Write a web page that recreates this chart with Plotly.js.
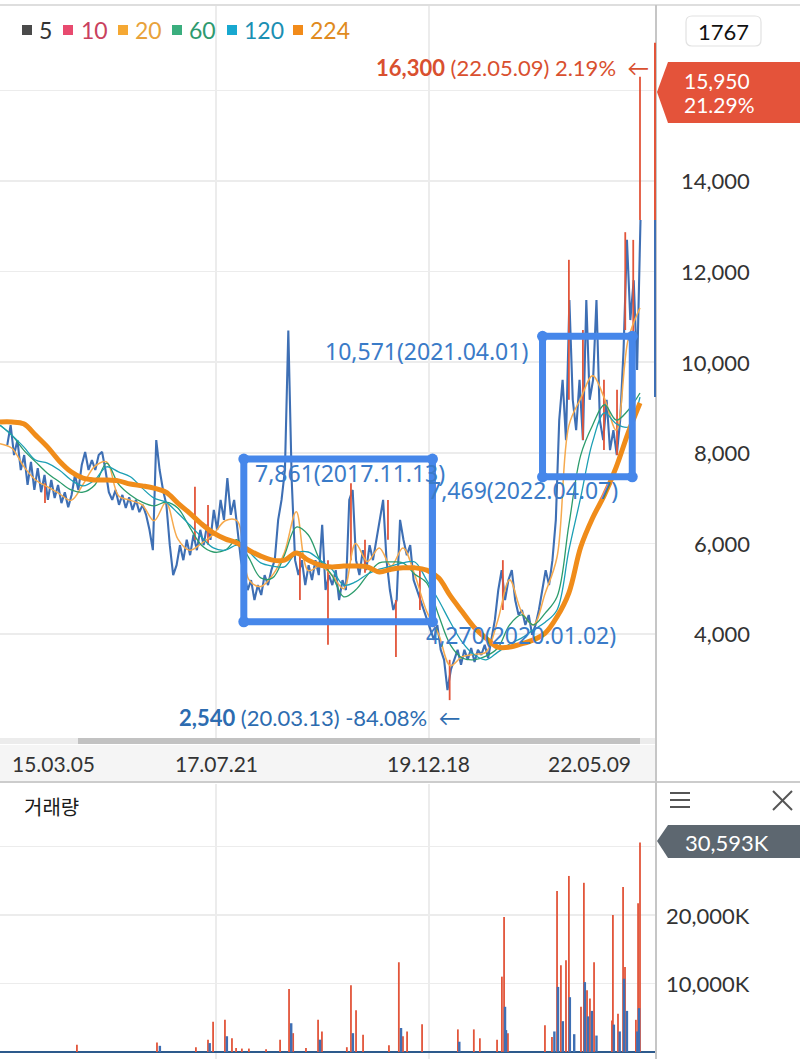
<!DOCTYPE html>
<html>
<head>
<meta charset="utf-8">
<script src="https://cdn.plot.ly/plotly-3.0.1.min.js"></script>
<style>
html,body{margin:0;padding:0;background:#fff;}
#chart{width:800px;height:1059px;}
</style>
</head>
<body>
<div id="chart"></div>
<script>
// ---------------- DATA ----------------
// price (sampled every 14 days, starting 2015-03-11)
const priceStart = '2015-03-11';
const priceStepDays = 14;
const priceValues = [
8170,8610,7950,8280,7620,7950,7290,7800,7180,7660,
7130,7510,6960,7400,7000,7290,6890,7130,6800,7070,
7510,7180,7730,8020,7620,7840,7620,7950,8020,7620,
7130,6960,7180,6850,7070,6780,7020,6740,6960,6690,
6850,6630,6300,5850,8280,7620,7180,6850,5960,5300,
5520,5960,5630,6080,5740,6190,5850,6300,5960,6410,
6080,6740,6300,6960,6520,7440,6630,6960,6300,5630,
5300,4970,5190,4750,5080,4860,5300,5080,5410,5630,
6520,6960,7620,10700,7400,5630,5300,5630,5080,5520,
5190,5630,5300,6410,4970,5300,5080,5410,4750,5190,
4970,6960,7180,5630,5300,5850,5410,5960,5630,6080,
6520,6960,5630,4970,4530,4750,6520,6080,5740,5960,
5190,4970,4750,4530,4310,4090,3870,4200,3650,3430,
2760,3210,3430,3650,3320,3650,3430,3690,3380,3650,
3540,3760,3470,3870,4310,4970,5410,4750,5190,5410,
4750,4420,4530,4200,4420,3980,4200,4530,4970,5410,
5080,5630,6520,8720,9610,8280,11370,9170,8500,9610,
8280,11370,9170,9610,11370,8720,8280,9170,8060,8500,
7950,8720,10270,12700,10930,11810,9830,13140
];

// red candle wicks (date, low, high)
const wickDates = ['2015-08-14','2017-04-25','2017-06-18','2018-07-03','2018-10-27','2019-01-30','2019-03-29','2019-07-02','2019-08-04','2019-11-11','2020-03-13','2020-10-19','2021-07-19','2021-09-15','2021-12-11','2022-02-03','2022-03-09','2022-04-11','2022-05-09'];
const wickLow  = [6890,6080,5970,4750,3760,5630,5350,6080,3490,4530,2540,4530,9170,8280,8060,7950,10710,10200,13140];
const wickHigh = [7330,7250,6850,5740,5630,7330,6080,6960,4750,5410,3430,5630,12260,10710,9610,9390,12870,12700,16300];

// moving averages (sampled every 49 days, starting 2015-02-09)
const maStart = '2015-02-09';
const maStepDays = 49;
const ma20 = [8200,8100,7700,7400,7250,7100,6950,7300,7700,7800,7050,6950,6850,6500,6900,6100,5850,6000,6200,6500,6500,5200,5050,5300,5800,6700,5400,5500,5300,5000,6000,5600,5900,5500,5900,5300,4500,4000,3300,3500,3550,3600,4300,5200,4500,4200,4900,5700,8600,9200,9700,9200,8500,10500,11200];
const ma60 = [8610,8390,8060,7800,7550,7360,7180,7130,7290,7770,7310,7070,6910,6830,6910,6780,6360,5960,5810,5850,6080,5680,5240,5240,5740,6360,6190,5630,5300,4820,4970,5300,5570,5590,5570,5320,5130,4420,3760,3470,3430,3510,3690,4200,4420,4200,4460,4820,6410,7950,8610,9060,8720,8940,9320];
const ma120 = [8610,8390,8130,7840,7770,7620,7400,7270,7400,7690,7580,7470,7220,7000,6910,6670,6410,6140,5900,5850,5960,5810,5570,5500,5480,5790,5810,5630,5430,5080,5150,5320,5430,5500,5570,5590,5190,4750,4260,3820,3540,3430,3600,3780,3910,4090,4260,4530,5850,7020,8240,8880,8640,8570,9230];
const ma224 = [8680,8680,8640,8390,8130,7820,7580,7440,7400,7400,7380,7310,7270,7220,7130,6890,6670,6430,6230,6100,6010,5850,5720,5630,5630,5790,5630,5520,5480,5500,5500,5480,5370,5430,5460,5460,5410,5240,4840,4490,4150,3910,3710,3710,3780,3870,4020,4380,4910,5920,6560,7070,7690,8440,9100];
const maLegendLabels = ['5','10','20','60','120','224'];

// volume (thousands of shares)
const volUpDates = ['2015-12-24','2016-11-19','2017-04-29','2017-06-18','2017-07-09','2017-08-27','2017-09-25','2017-10-12','2017-11-05','2017-12-04','2018-02-13','2018-04-12','2018-05-19','2018-06-05','2018-07-28','2018-09-16','2018-10-02','2019-01-13','2019-01-30','2019-02-20','2019-03-21','2019-07-06','2019-08-16','2019-09-02','2019-09-19','2019-11-20','2020-04-16','2020-06-21','2020-07-16','2020-09-25','2020-10-15','2020-10-24','2020-11-09','2021-04-11','2021-05-10','2021-05-31','2021-06-16','2021-07-07','2021-07-19','2021-09-07','2021-09-19','2021-10-02','2021-10-14','2021-10-31','2022-01-13','2022-01-17','2022-02-07','2022-02-28','2022-03-08','2022-04-22','2022-05-01','2022-05-09'];
const volUp = [1060,1400,700,1800,4400,4700,2000,600,500,500,400,1800,9200,2750,600,4700,3000,700,9750,6100,2500,1000,13100,2300,3000,4050,3300,3300,2000,1800,11000,19700,2750,3900,2200,23500,12650,13400,25700,6600,24700,9000,7800,13100,4600,20000,5600,24100,12400,4700,21700,30593];
const volDownDates = ['2016-12-01','2017-06-25','2017-09-04','2018-05-28','2018-09-24','2019-02-07','2019-08-25','2020-04-22','2020-10-28','2020-11-01','2021-05-20','2021-06-04','2021-06-24','2021-07-23','2021-08-10','2021-09-23','2021-10-06','2021-10-22','2021-11-10','2022-01-21','2022-02-14','2022-03-04','2022-03-16','2022-04-28','2022-05-05'];
const volDown = [900,1300,2300,4200,1800,2750,3500,1500,6600,3200,3000,9500,4500,8000,2600,10200,5200,6000,2400,4000,3000,10700,6000,3000,6400];

// marked boxes
const boxStart = ['2017-11-13','2021-04-01'];
const boxEnd   = ['2020-01-02','2022-04-07'];
const boxLow   = [4270,7469];
const boxHigh  = [7861,10571];
const boxLabelTop = ['7,861(2017.11.13)','10,571(2021.04.01)'];
const boxLabelBottom = ['4,270(2020.01.02)','7,469(2022.04.07)'];

// extremes
const maxDate = '2022-05-09', maxPrice = 16300, maxText = '<b>16,300</b> (22.05.09) 2.19%';
const minDate = '2020-03-13', minPrice = 2540, minText = '<b>2,540</b> (20.03.13) -84.08%';
const lastPrice = '15,950', lastChange = '21.29%', lastVolume = '30,593K', chartCount = '1767';
const edgeBarRed = [13140, 17050];
const edgeBarBlue = [9230, 13140];

// axes
const priceTickVals = [4000,6000,8000,10000,12000,14000,16000];
const priceTickText = ['4,000','6,000','8,000','10,000','12,000','14,000','16,000'];
const volTickVals = [10000,20000,30000];
const volTickText = ['10,000K','20,000K','30,000K'];
const xGridDates = ['2017-07-21','2019-12-18'];
const xLabelDates = ['2015-03-05','2017-07-21','2019-12-18','2022-05-09'];
const xLabelText = ['15.03.05','17.07.21','19.12.18','22.05.09'];

// ---------------- HELPERS ----------------
const W = 800, H = 1059;
const PX = v => v / W;
const PY = v => 1 - v / H;
function addDays(iso, n){
  const d = new Date(iso + 'T00:00:00Z');
  d.setUTCDate(d.getUTCDate() + n);
  return d.toISOString().slice(0,10);
}
function segs(dates, lo, hi){
  const x=[], y=[];
  dates.forEach((d,i)=>{ x.push(d,d,null); y.push(lo[i],hi[i],null); });
  return {x,y};
}
function poly(pts){
  return 'M ' + pts.map(p => PX(p[0]) + ',' + PY(p[1])).join(' L ') + ' Z';
}
function roundRect(x0,y0,x1,y1,r){
  const P = (a,b) => PX(a)+','+PY(b);
  return 'M '+P(x0+r,y0)+' L '+P(x1-r,y0)+' Q '+P(x1,y0)+' '+P(x1,y0+r)+
         ' L '+P(x1,y1-r)+' Q '+P(x1,y1)+' '+P(x1-r,y1)+
         ' L '+P(x0+r,y1)+' Q '+P(x0,y1)+' '+P(x0,y1-r)+
         ' L '+P(x0,y0+r)+' Q '+P(x0,y0)+' '+P(x0+r,y0)+' Z';
}

const priceDates = priceValues.map((_,i)=>addDays(priceStart, i*priceStepDays));
const maDates = ma224.map((_,i)=>addDays(maStart, i*maStepDays));

const RED = '#e2553a', BLUE = '#3e6fb4', BOX = '#4687ea', BOXTXT = '#3a7bc8';

// ---------------- TRACES ----------------
const traces = [];
traces.push({x:priceDates, y:priceValues, type:'scatter', mode:'lines', line:{color:BLUE, width:2.1}, xaxis:'x', yaxis:'y', hoverinfo:'skip'});
const w = segs(wickDates, wickLow, wickHigh);
traces.push({x:w.x, y:w.y, type:'scatter', mode:'lines', line:{color:RED, width:1.8}, xaxis:'x', yaxis:'y', hoverinfo:'skip'});
traces.push({x:maDates, y:ma20, type:'scatter', mode:'lines', line:{color:'#f6aa4e', width:1.5, shape:'spline'}, xaxis:'x', yaxis:'y'});
traces.push({x:maDates, y:ma60, type:'scatter', mode:'lines', line:{color:'#2c9c6c', width:1.3, shape:'spline'}, xaxis:'x', yaxis:'y'});
traces.push({x:maDates, y:ma120, type:'scatter', mode:'lines', line:{color:'#1c9fb4', width:1.3, shape:'spline'}, xaxis:'x', yaxis:'y'});
traces.push({x:maDates, y:ma224, type:'scatter', mode:'lines', line:{color:'#f08c1a', width:5, shape:'spline'}, xaxis:'x', yaxis:'y'});
// box corner dots
const cx=[], cy=[];
boxStart.forEach((s,i)=>{ cx.push(s, boxEnd[i], s, boxEnd[i]); cy.push(boxHigh[i], boxHigh[i], boxLow[i], boxLow[i]); });
traces.push({x:cx, y:cy, type:'scatter', mode:'markers', marker:{color:BOX, size:11}, xaxis:'x', yaxis:'y'});
// volume
const vu = segs(volUpDates, volUp.map(()=>0), volUp);
const vd = segs(volDownDates, volDown.map(()=>0), volDown);
traces.push({x:vu.x, y:vu.y, type:'scatter', mode:'lines', line:{color:RED, width:1.8}, xaxis:'x2', yaxis:'y2'});
traces.push({x:vd.x, y:vd.y, type:'scatter', mode:'lines', line:{color:BLUE, width:2.4}, xaxis:'x2', yaxis:'y2'});

// ---------------- SHAPES ----------------
const shapes = [];
boxStart.forEach((s,i)=>{
  shapes.push({type:'rect', xref:'x', yref:'y', x0:s, x1:boxEnd[i], y0:boxLow[i], y1:boxHigh[i], line:{color:BOX, width:7}, layer:'above'});
});
shapes.push({type:'line', xref:'paper', yref:'paper', x0:0, x1:1, y0:PY(5), y1:PY(5), line:{color:'#dedede', width:2}});
shapes.push({type:'rect', xref:'paper', yref:'paper', x0:0, x1:PX(655), y0:PY(781), y1:PY(745), fillcolor:'#f5f5f5', line:{width:0}, layer:'below'});
shapes.push({type:'rect', xref:'paper', yref:'paper', x0:0, x1:PX(655), y0:PY(744), y1:PY(738), fillcolor:'#ececec', line:{width:0}});
shapes.push({type:'rect', xref:'paper', yref:'paper', x0:PX(78), x1:PX(640), y0:PY(744), y1:PY(738), fillcolor:'#c2c2c2', line:{width:0}});
shapes.push({type:'line', xref:'paper', yref:'paper', x0:0, x1:1, y0:PY(782), y1:PY(782), line:{color:'#cccccc', width:2}});
shapes.push({type:'line', xref:'paper', yref:'paper', x0:PX(656), x1:PX(656), y0:PY(5), y1:0, line:{color:'#c6c6c6', width:2}});
shapes.push({type:'line', xref:'paper', yref:'y', x0:PX(655), x1:PX(655), y0:edgeBarRed[0], y1:edgeBarRed[1], line:{color:RED, width:2}, layer:'above'});
shapes.push({type:'line', xref:'paper', yref:'y', x0:PX(655), x1:PX(655), y0:edgeBarBlue[0], y1:edgeBarBlue[1], line:{color:BLUE, width:2}, layer:'above'});
shapes.push({type:'path', xref:'paper', yref:'paper', path:roundRect(686,16,761,46,6), fillcolor:'#ffffff', line:{color:'#e2e2e2', width:1.2}});
shapes.push({type:'path', xref:'paper', yref:'paper', path:poly([[657,92],[668,62],[800,62],[800,123],[668,123]]), fillcolor:'#e4533a', line:{width:0}, layer:'above'});
shapes.push({type:'path', xref:'paper', yref:'paper', path:poly([[657,841],[668,825],[800,825],[800,858],[668,858]]), fillcolor:'#5d6770', line:{width:0}, layer:'above'});
[793,800,807].forEach(yy=>shapes.push({type:'line', xref:'paper', yref:'paper', x0:PX(670), x1:PX(690), y0:PY(yy), y1:PY(yy), line:{color:'#555', width:2}}));
shapes.push({type:'line', xref:'paper', yref:'paper', x0:PX(773), x1:PX(792), y0:PY(791), y1:PY(810), line:{color:'#555', width:2}});
shapes.push({type:'line', xref:'paper', yref:'paper', x0:PX(773), x1:PX(792), y0:PY(810), y1:PY(791), line:{color:'#555', width:2}});

const legSq = [22,63,118,172,227,293];
const legTx = [37,79,133,187,242,308];
const legSqColor = ['#4a4a4a','#e84a6f','#f5a833','#3aae7e','#18a8d0','#f28b1a'];
const legTxColor = ['#333333','#c9415e','#e8a23b','#2e9a6f','#1b8fb3','#e08a20'];
legSq.forEach((x,i)=>shapes.push({type:'rect', xref:'paper', yref:'paper', x0:PX(x), x1:PX(x+10), y0:PY(35), y1:PY(25), fillcolor:legSqColor[i], line:{width:0}}));

// ---------------- ANNOTATIONS ----------------
const ann = [];
const LATO = 'Lato, "Open Sans", sans-serif';
maLegendLabels.forEach((t,i)=>ann.push({xref:'paper', yref:'paper', x:PX(legTx[i]), y:PY(30), text:t, showarrow:false, xanchor:'left', yanchor:'middle', font:{family:LATO, size:23, color:legTxColor[i]}}));
priceTickVals.slice(0,6).forEach((v,i)=>ann.push({xref:'paper', yref:'y', x:PX(752), y:v, text:priceTickText[i], showarrow:false, xanchor:'right', yanchor:'middle', font:{family:LATO, size:22, color:'#333'}}));
volTickVals.slice(0,2).forEach((v,i)=>ann.push({xref:'paper', yref:'y2', x:PX(752), y:v, text:volTickText[i], showarrow:false, xanchor:'right', yanchor:'middle', font:{family:LATO, size:22, color:'#333'}}));
const xAnch = ['left','center','center','right'];
const xSh = [4,0,0,-7];
xLabelDates.forEach((d,i)=>ann.push({xref:'x', yref:'paper', x:d, y:PY(763), text:xLabelText[i], showarrow:false, xanchor:xAnch[i], yanchor:'middle', xshift:xSh[i], font:{family:LATO, size:21, color:'#333'}}));
ann.push({xref:'paper', yref:'paper', x:PX(723.5), y:PY(31), text:chartCount, showarrow:false, xanchor:'center', yanchor:'middle', font:{family:LATO, size:22, color:'#111'}});
ann.push({xref:'paper', yref:'paper', x:PX(682), y:PY(80), text:lastPrice, showarrow:false, xanchor:'left', yanchor:'middle', font:{family:LATO, size:21, color:'#fff'}, height:22});
ann.push({xref:'paper', yref:'paper', x:PX(682), y:PY(104), text:lastChange, showarrow:false, xanchor:'left', yanchor:'middle', font:{family:LATO, size:21, color:'#fff'}, height:22});
ann.push({xref:'paper', yref:'paper', x:PX(683), y:PY(842), text:lastVolume, showarrow:false, xanchor:'left', yanchor:'middle', font:{family:LATO, size:22, color:'#fff'}});
ann.push({xref:'paper', yref:'paper', x:PX(22), y:PY(806), text:'거래량', showarrow:false, xanchor:'left', yanchor:'middle', font:{family:'"Noto Sans CJK KR", sans-serif', size:20, color:'#1a1a1a'}});
ann.push({xref:'x', yref:'y', x:maxDate, y:maxPrice, text:maxText + '  ←', showarrow:false, xanchor:'right', yanchor:'middle', xshift:11, yshift:9, font:{family:LATO, size:22, color:'#d9502f'}});
ann.push({xref:'x', yref:'y', x:minDate, y:minPrice, text:minText + '  ←', showarrow:false, xanchor:'right', yanchor:'middle', xshift:12, yshift:-17, font:{family:LATO, size:22, color:'#2d6cb0'}});
const BF = {family:'"Noto Sans", sans-serif', size:23, color:BOXTXT};
ann.push({xref:'x', yref:'y', x:boxStart[0], y:boxHigh[0], text:boxLabelTop[0], showarrow:false, xanchor:'left', yanchor:'middle', xshift:9, yshift:-14, font:BF});
ann.push({xref:'x', yref:'y', x:boxEnd[0], y:boxLow[0], text:boxLabelBottom[0], showarrow:false, xanchor:'left', yanchor:'middle', xshift:-8, yshift:-13, font:BF});
ann.push({xref:'x', yref:'y', x:boxStart[1], y:boxHigh[1], text:boxLabelTop[1], showarrow:false, xanchor:'right', yanchor:'middle', xshift:-13, yshift:-15, font:BF});
ann.push({xref:'x', yref:'y', x:boxEnd[1], y:boxLow[1], text:boxLabelBottom[1], showarrow:false, xanchor:'right', yanchor:'middle', xshift:-12, yshift:-13, font:BF});

// ---------------- LAYOUT ----------------
const xCommon = {type:'date', range:['2015-02-09','2022-07-10'], domain:[0, PX(655)], tickvals:xGridDates, showticklabels:false, ticks:'', showgrid:true, gridcolor:'#ececec', gridwidth:1.5, zeroline:false, showline:false, fixedrange:true};
const layout = {
  width:W, height:H,
  margin:{l:0, r:0, t:0, b:0},
  paper_bgcolor:'#ffffff', plot_bgcolor:'#ffffff',
  showlegend:false,
  font:{family:LATO},
  xaxis:Object.assign({}, xCommon, {anchor:'y'}),
  yaxis:{domain:[PY(738), PY(6)], range:[1704, 17863], tickvals:priceTickVals, showticklabels:false, ticks:'', gridcolor:'#ececec', gridwidth:1.5, zeroline:false, showline:false, side:'right', anchor:'x'},
  xaxis2:Object.assign({}, xCommon, {anchor:'y2'}),
  yaxis2:{domain:[0, PY(784)], range:[-1022, 39124], tickvals:volTickVals, showticklabels:false, ticks:'', gridcolor:'#ececec', gridwidth:1.5, zeroline:true, zerolinecolor:'#2d5a8c', zerolinewidth:2, showline:false, side:'right', anchor:'x2'},
  shapes:shapes,
  annotations:ann
};
Plotly.newPlot('chart', traces, layout, {displayModeBar:false, staticPlot:true});
</script>
</body>
</html>
